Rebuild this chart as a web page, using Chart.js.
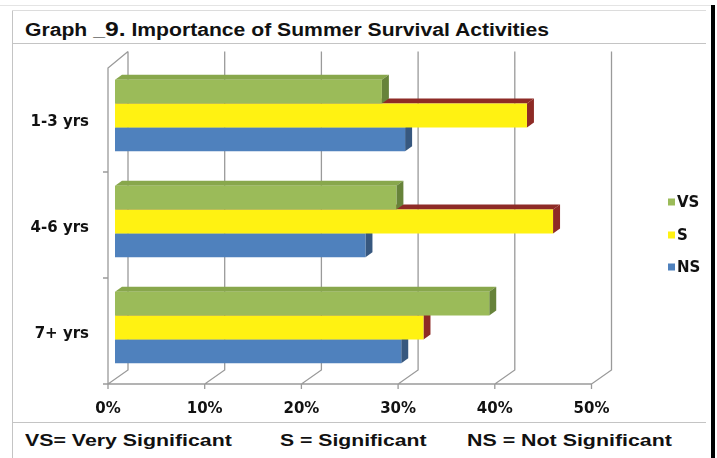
<!DOCTYPE html>
<html>
<head>
<meta charset="utf-8">
<script src="https://cdn.jsdelivr.net/npm/chart.js@4/dist/chart.umd.min.js"></script>
<style>
  html, body { margin: 0; padding: 0; background: #fff; }
  #page { position: relative; width: 717px; height: 458px; overflow: hidden; background: #fff; }
  .line { position: absolute; background: #c4c4c4; }
  .txt { position: absolute; font-family: "Liberation Sans", Arial, sans-serif; font-weight: bold; color: #111;
         white-space: nowrap; transform-origin: 0 0; }
  #chartBox { position: absolute; left: 13px; top: 44px; width: 692px; height: 378px; overflow: hidden; }
</style>
</head>
<body>
<div id="page">
  <!-- faint sheet lines -->
  <div class="line" style="left:0;top:5px;width:711px;height:1px;background:#e4e4e4"></div>
  <!-- frame -->
  <div class="line" style="left:12px;top:10px;width:1px;height:448px;"></div>
  <div class="line" style="left:12px;top:10px;width:694px;height:1px;background:#dcdcdc"></div>
  <div class="line" style="left:12px;top:43px;width:694px;height:1px;"></div>
  <div class="line" style="left:12px;top:422px;width:694px;height:1px;"></div>
  <div class="line" style="left:711px;top:5px;width:4px;height:453px;background:#000"></div>

  <div class="txt fit" id="title" data-w="524" style="left:25px;top:17px;font-size:18px;">Graph _<span style="font-size:21px">9.</span> Importance of Summer Survival Activities</div>

  <div id="chartBox"><canvas id="chart" width="692" height="378"></canvas></div>

  <div class="txt fit" data-w="207" style="left:25px;top:431px;font-size:17px;">VS= Very Significant</div>
  <div class="txt fit" data-w="147" style="left:280px;top:431px;font-size:17px;">S = Significant</div>
  <div class="txt fit" data-w="205" style="left:467px;top:431px;font-size:17px;">NS = Not Significant</div>
</div>

<script>
// data
const categories = ['1-3 yrs', '4-6 yrs', '7+ yrs'];
const seriesLabels = ['VS', 'S', 'NS'];
const vsValues = [27.6, 29.1, 38.7];
const sValues = [42.6, 45.3, 31.9];
const nsValues = [30.0, 25.9, 29.6];
const xTicks = [0, 10, 20, 30, 40, 50];

// colours: front, top face, side face
const frontColors = ['#9BBB59', '#FFF212', '#4F81BD'];
const topColors = ['#88A74C', '#8E2B26', '#3E6A9E'];
const sideColors = ['#67833A', '#8E2B26', '#37587F'];

// stretch html texts to the scanned widths
document.querySelectorAll('.fit').forEach(function (el) {
    const w = +el.dataset.w;
    el.style.transform = 'scaleX(' + (w / el.offsetWidth) + ')';
});

const DX = 7, DY = 5;

const depthBars = {
    id: 'depthBars',
    beforeDatasetDraw(chart, args) {
        const ctx = chart.ctx;
        const i = args.index;
        ctx.save();
        args.meta.data.forEach(function (el) {
            const p = el.getProps(['x', 'y', 'base', 'height'], true);
            const top = p.y - p.height / 2, bottom = p.y + p.height / 2;
            ctx.fillStyle = topColors[i];
            ctx.beginPath();
            ctx.moveTo(p.base, top);
            ctx.lineTo(p.base + DX, top - DY);
            ctx.lineTo(p.x + DX, top - DY);
            ctx.lineTo(p.x, top);
            ctx.closePath();
            ctx.fill();
            ctx.fillStyle = sideColors[i];
            ctx.beginPath();
            ctx.moveTo(p.x, top);
            ctx.lineTo(p.x + DX, top - DY);
            ctx.lineTo(p.x + DX, bottom - DY);
            ctx.lineTo(p.x, bottom);
            ctx.closePath();
            ctx.fill();
        });
        ctx.restore();
    }
};

const walls = {
    id: 'walls',
    beforeDatasetsDraw(chart) {
        const ctx = chart.ctx, ca = chart.chartArea, xs = chart.scales.x;
        const fb = ca.bottom + 3.5, bb = ca.bottom - 10.5, bt = ca.top - 11, ft = ca.top + 5.5;
        const band = (ca.bottom - ca.top) / categories.length;
        ctx.save();
        ctx.strokeStyle = '#9a9a9a';
        ctx.lineWidth = 1.3;
        ctx.beginPath();
        xTicks.forEach(function (v) {
            const px = xs.getPixelForValue(v);
            ctx.moveTo(px + 13, bt);
            ctx.lineTo(px + 13, bb);
            ctx.lineTo(px - 7, fb);
            ctx.lineTo(px - 7, fb + 5);
        });
        const x0 = xs.getPixelForValue(0) - 7, x1 = xs.getPixelForValue(50) - 7;
        ctx.moveTo(x0, fb);
        ctx.lineTo(x1, fb);
        ctx.moveTo(x0 + 20, bt);
        ctx.lineTo(x0, ft);
        ctx.lineTo(x0, fb);
        for (let k = 1; k <= categories.length; k++) {
            const yy = ca.top + 3.5 + k * band;
            ctx.moveTo(x0 - 5, yy);
            ctx.lineTo(x0, yy);
        }
        ctx.stroke();
        ctx.restore();
    }
};

const sideLegend = {
    id: 'sideLegend',
    afterDraw(chart) {
        const ctx = chart.ctx;
        const x = 655, ys = [158, 191, 223];
        ctx.save();
        ctx.font = 'bold 15px "DejaVu Sans"';
        ctx.textBaseline = 'middle';
        ctx.fillStyle = '#111';
        chart.data.datasets.forEach(function (ds, i) {
            ctx.fillStyle = ds.backgroundColor;
            ctx.fillRect(x, ys[i] - 3.5, 7, 7);
            ctx.fillStyle = '#111';
            ctx.fillText(ds.label, x + 9, ys[i] + 1);
        });
        ctx.restore();
    }
};

new Chart(document.getElementById('chart'), {
    type: 'bar',
    data: {
        labels: categories,
        datasets: [
            { label: seriesLabels[0], data: vsValues, backgroundColor: frontColors[0] },
            { label: seriesLabels[1], data: sValues, backgroundColor: frontColors[1] },
            { label: seriesLabels[2], data: nsValues, backgroundColor: frontColors[2] }
        ]
    },
    options: {
        indexAxis: 'y',
        responsive: false,
        animation: false,
        devicePixelRatio: 1,
        categoryPercentage: 0.675,
        barPercentage: 1,
        layout: { padding: { top: 18.5, right: 106.5, left: 0, bottom: 0 } },
        plugins: { legend: { display: false }, tooltip: { enabled: false } },
        scales: {
            x: {
                min: 0, max: 50,
                grid: { display: false, drawTicks: false },
                border: { display: false },
                afterFit: function (s) { s.height = 41.5; },
                ticks: {
                    stepSize: 10,
                    padding: 20,
                    labelOffset: -7,
                    color: '#111',
                    font: { family: 'DejaVu Sans', weight: 'bold', size: 15 },
                    callback: function (v) { return v + '%'; }
                }
            },
            y: {
                grid: { display: false, drawTicks: false },
                border: { display: false },
                afterFit: function (s) {
                    s.width = 102;
                    s.paddingTop = 0;
                    s.paddingBottom = 0;
                },
                ticks: {
                    padding: 26,
                    labelOffset: 7,
                    color: '#111',
                    font: { family: 'DejaVu Sans', weight: 'bold', size: 15 }
                }
            }
        }
    },
    plugins: [walls, depthBars, sideLegend]
});
</script>
</body>
</html>
